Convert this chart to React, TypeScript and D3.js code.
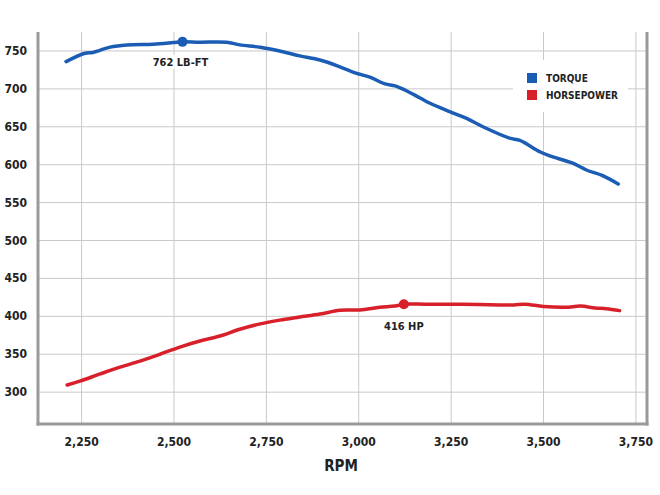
import React from "react";
import * as d3 from "d3";

const torqueRpm = [2208, 2259, 2281, 2327, 2372, 2444, 2498, 2523, 2570, 2642, 2678, 2733, 2786, 2840, 2895, 2949, 2990, 3030, 3071, 3098, 3125, 3166, 3193, 3246, 3292, 3336, 3408, 3436, 3490, 3517, 3579, 3616, 3660, 3702];
const torqueVal = [736, 747, 748, 755, 758, 759, 761, 762, 761.5, 761.5, 758, 755, 750, 743.5, 738, 729, 721, 715.5, 706.5, 704, 698.5, 688, 681, 670, 661, 650, 635, 632, 617, 611.5, 602, 593, 585.5, 574.5];

const hpRpm = [2211, 2245, 2300, 2354, 2408, 2462, 2516, 2570, 2624, 2678, 2733, 2786, 2840, 2895, 2949, 3003, 3057, 3098, 3122, 3180, 3246, 3320, 3381, 3420, 3450, 3500, 3560, 3600, 3640, 3670, 3706];
const hpVal = [309.5, 314.5, 324, 333, 341, 350, 359.5, 367.5, 374, 383, 390, 395, 399, 403, 408, 408.5, 412, 413.5, 416, 416, 416, 415.5, 415, 415, 416, 413, 412, 413.5, 411, 410, 407.5];

const yTicks = [300, 350, 400, 450, 500, 550, 600, 650, 700, 750];
const xTicks = [2250, 2500, 2750, 3000, 3250, 3500, 3750];
const xTickLabels = ["2,250", "2,500", "2,750", "3,000", "3,250", "3,500", "3,750"];

const torquePeak = { rpm: 2523, val: 762, label: "762 LB-FT" };
const hpPeak = { rpm: 3122, val: 416, label: "416 HP" };

const seriesNames = ["TORQUE", "HORSEPOWER"];
const seriesColors = ["#1b5cb4", "#d8202a"];

const FONT = "'Liberation Sans Narrow', 'DejaVu Sans Condensed', 'Arial Narrow', sans-serif";

export default function App() {
  const left = 38, right = 647, top = 32, bottom = 424;
  const x = d3.scaleLinear().domain([2132, 3780]).range([left, right]);
  const y = d3.scaleLinear().domain([258, 775]).range([bottom, top]);

  const torqueData = torqueRpm.map((r, i) => [r, torqueVal[i]] as [number, number]);
  const hpData = hpRpm.map((r, i) => [r, hpVal[i]] as [number, number]);
  const line = d3.line<[number, number]>().x(d => x(d[0])).y(d => y(d[1])).curve(d3.curveCatmullRom);

  return (
    <svg width={660} height={495} style={{ position: "absolute", left: 0, top: 0, background: "#fff" }}>
      {/* grid */}
      {yTicks.map(t => (
        <line key={"h" + t} x1={left} x2={right} y1={y(t)} y2={y(t)} stroke="#c9c9c9" strokeWidth={1} />
      ))}
      {xTicks.map(t => (
        <line key={"v" + t} x1={x(t)} x2={x(t)} y1={top} y2={bottom} stroke="#c9c9c9" strokeWidth={1} />
      ))}
      {/* legend background */}
      <rect x={513} y={60} width={115} height={52} fill="#fff" />
      {/* axes */}
      <line x1={left} x2={left} y1={top} y2={bottom + 1.5} stroke="#9a9a9e" strokeWidth={3} />
      <line x1={left - 1.5} x2={right + 1.5} y1={bottom} y2={bottom} stroke="#9a9a9e" strokeWidth={3} />
      <line x1={right} x2={right} y1={top} y2={bottom + 1.5} stroke="#9a9a9e" strokeWidth={3} />
      {/* tick labels */}
      {yTicks.map(t => (
        <text key={"yl" + t} x={27} y={y(t) + 4} textAnchor="end" fontFamily={FONT} fontWeight={700} fontSize={12} fill="#222">
          {t}
        </text>
      ))}
      {xTicks.map((t, i) => (
        <text key={"xl" + t} x={x(t)} y={446} textAnchor="middle" fontFamily={FONT} fontWeight={700} fontSize={12} fill="#222">
          {xTickLabels[i]}
        </text>
      ))}
      <text x={341} y={471} textAnchor="middle" fontFamily={FONT} fontWeight={700} fontSize={15} fill="#222">RPM</text>
      {/* lines */}
      <path d={line(torqueData) || ""} fill="none" stroke={seriesColors[0]} strokeWidth={3.5} strokeLinejoin="round" strokeLinecap="round" />
      <path d={line(hpData) || ""} fill="none" stroke={seriesColors[1]} strokeWidth={3.5} strokeLinejoin="round" strokeLinecap="round" />
      {/* peak markers */}
      <circle cx={x(torquePeak.rpm)} cy={y(torquePeak.val)} r={5} fill={seriesColors[0]} />
      <circle cx={x(hpPeak.rpm)} cy={y(hpPeak.val)} r={5} fill={seriesColors[1]} />
      <rect x={x(torquePeak.rpm) - 28} y={y(torquePeak.val) + 13} width={54} height={14} fill="#fff" />
      <text x={x(torquePeak.rpm) - 2} y={y(torquePeak.val) + 24} textAnchor="middle" fontFamily={FONT} fontWeight={700} fontSize={11} fill="#222">
        {torquePeak.label}
      </text>
      <rect x={x(hpPeak.rpm) - 27} y={y(hpPeak.val) + 15} width={54} height={14} fill="#fff" />
      <text x={x(hpPeak.rpm)} y={y(hpPeak.val) + 26} textAnchor="middle" fontFamily={FONT} fontWeight={700} fontSize={11} fill="#222">
        {hpPeak.label}
      </text>
      {/* legend */}
      {seriesNames.map((n, i) => (
        <g key={n}>
          <rect x={527} y={73 + i * 17} width={10} height={10} fill={seriesColors[i]} />
          <text x={546} y={82 + i * 17} fontFamily={FONT} fontWeight={700} fontSize={10} fill="#222">{n}</text>
        </g>
      ))}
    </svg>
  );
}
